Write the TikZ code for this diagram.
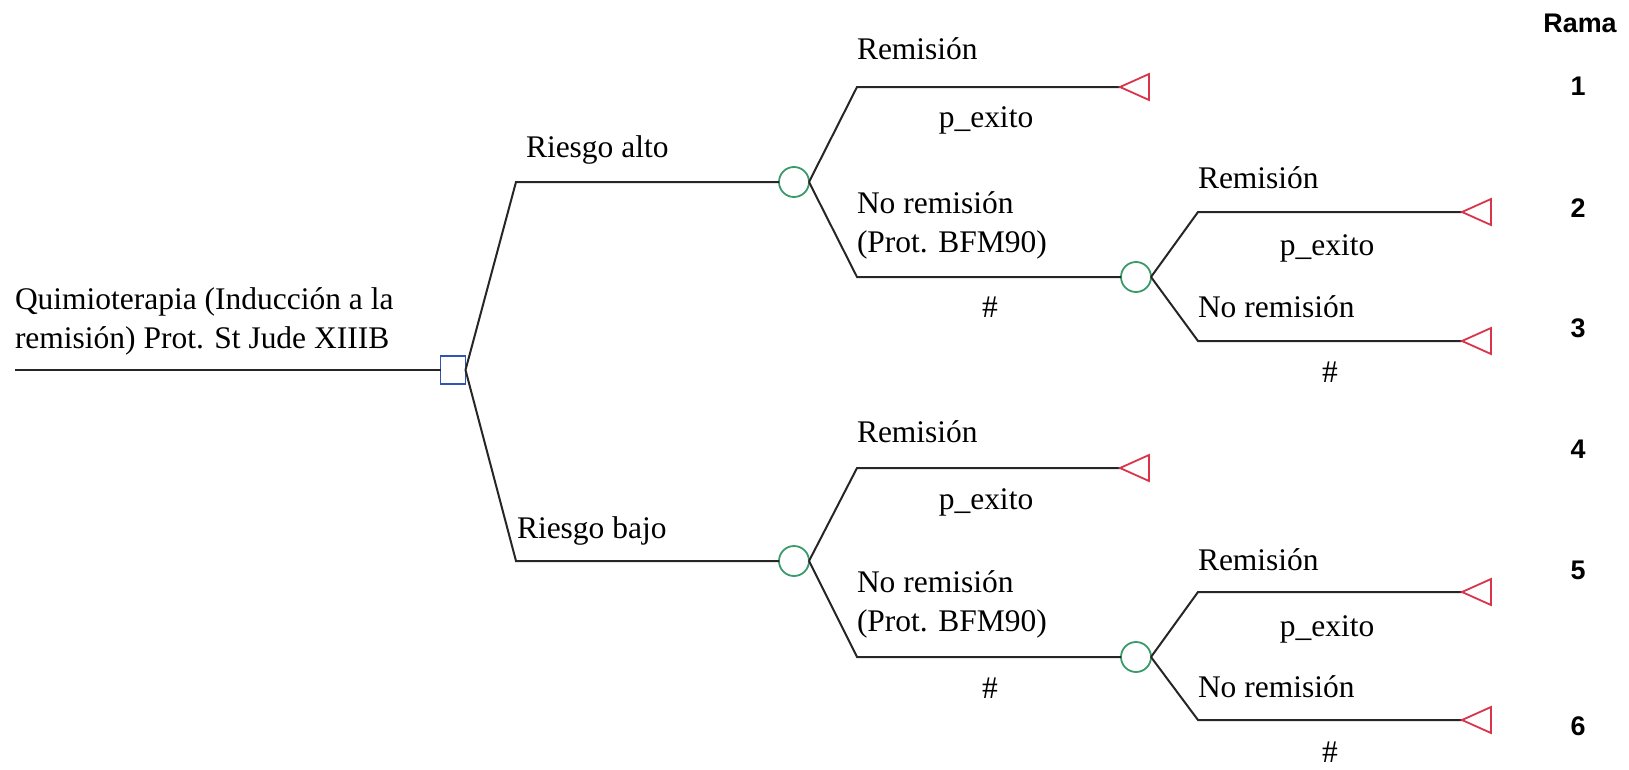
\documentclass[tikz,border=0pt]{standalone}
\usepackage{fontspec}
\setmainfont{Liberation Serif}
\newfontfamily\ramafont{Liberation Sans}
\definecolor{decblue}{RGB}{47,84,180}
\definecolor{chgreen}{RGB}{58,154,106}
\definecolor{termred}{RGB}{217,52,74}
\begin{document}
\begin{tikzpicture}[x=1bp,y=-1bp,
  every node/.style={inner sep=0pt, outer sep=0pt},
  edge/.style={draw=black!85, line width=2bp},
  lbl/.style={font=\fontsize{31.6pt}{38.5pt}\selectfont, anchor=base west, align=left},
  clbl/.style={font=\fontsize{31.6pt}{38.5pt}\selectfont, anchor=base},
  decision/.style={draw=decblue, line width=1.8bp, fill=white, minimum width=25bp, minimum height=28bp},
  chance/.style={circle, draw=chgreen, line width=1.8bp, fill=white, minimum size=30bp},
  terminal/.style={draw=termred, line width=1.8bp, line join=miter},
  rama/.style={font=\ramafont\bfseries\fontsize{27pt}{30pt}\selectfont, anchor=base}
]
\useasboundingbox (0,0) rectangle (1629,770);

% nodes
\coordinate (start) at (15,370);
\node[decision] (d) at (453,370) {};
\coordinate (k1) at (516,182);
\coordinate (k2) at (516,561);
\node[chance] (c1) at (794,182) {};
\node[chance] (c2) at (794,561) {};
\coordinate (a1) at (857,87);
\coordinate (a2) at (857,277);
\coordinate (b1) at (857,468);
\coordinate (b2) at (857,657);
\node[chance] (c3) at (1136,277) {};
\node[chance] (c4) at (1136,657) {};
\coordinate (a3) at (1198,212);
\coordinate (a4) at (1198,341);
\coordinate (b3) at (1198,592);
\coordinate (b4) at (1198,720);
\coordinate (t1) at (1120,87);
\coordinate (t2) at (1462,212);
\coordinate (t3) at (1462,341);
\coordinate (t4) at (1120,468);
\coordinate (t5) at (1462,592);
\coordinate (t6) at (1462,720);

% connectors
\draw[edge] (start) -- (d.west);
\draw[edge] (d.east) -- (k1) -- (c1.west);
\draw[edge] (d.east) -- (k2) -- (c2.west);
\draw[edge] (c1.east) -- (a1) -- (t1);
\draw[edge] (c1.east) -- (a2) -- (c3.west);
\draw[edge] (c3.east) -- (a3) -- (t2);
\draw[edge] (c3.east) -- (a4) -- (t3);
\draw[edge] (c2.east) -- (b1) -- (t4);
\draw[edge] (c2.east) -- (b2) -- (c4.west);
\draw[edge] (c4.east) -- (b3) -- (t5);
\draw[edge] (c4.east) -- (b4) -- (t6);

% terminal triangles
\foreach \t in {t1,t2,t3,t4,t5,t6}
  \draw[terminal] (\t) -- ++(29,-13) -- ++(0,26) -- cycle;

% labels (multi-line nodes: base = baseline of last line)
\node[lbl] (lq) at (15,348) {Quimioterapia (Inducción a la\\remisión) Prot. St Jude XIIIB};
\node[lbl] (lra) at (526,157) {Riesgo alto};
\node[lbl] (lrb) at (517,538) {Riesgo bajo};

\node[lbl] (r1) at (857,60) {Remisión};
\node[clbl] (p1) at (986,127) {p\_exito};
\node[lbl] (n1) at (857,252) {No remisión\\(Prot. BFM90)};
\node[clbl] (h1) at (990,317) {\#};
\node[lbl] (r2) at (1198,188) {Remisión};
\node[clbl] (p2) at (1327,255) {p\_exito};
\node[lbl] (n2) at (1198,317) {No remisión};
\node[clbl] (h2) at (1330,382) {\#};

\node[lbl] (r3) at (857,442) {Remisión};
\node[clbl] (p3) at (986,509) {p\_exito};
\node[lbl] (n3) at (857,631) {No remisión\\(Prot. BFM90)};
\node[clbl] (h3) at (990,698) {\#};
\node[lbl] (r4) at (1198,570) {Remisión};
\node[clbl] (p4) at (1327,636) {p\_exito};
\node[lbl] (n4) at (1198,697) {No remisión};
\node[clbl] (h4) at (1330,762) {\#};

% Rama column
\node[rama] (rama) at (1580,33) {Rama};
\node[rama] (n1r) at (1578,95) {1};
\node[rama] (n2r) at (1578,217) {2};
\node[rama] (n3r) at (1578,337) {3};
\node[rama] (n4r) at (1578,458) {4};
\node[rama] (n5r) at (1578,579) {5};
\node[rama] (n6r) at (1578,735) {6};
\end{tikzpicture}
\end{document}
